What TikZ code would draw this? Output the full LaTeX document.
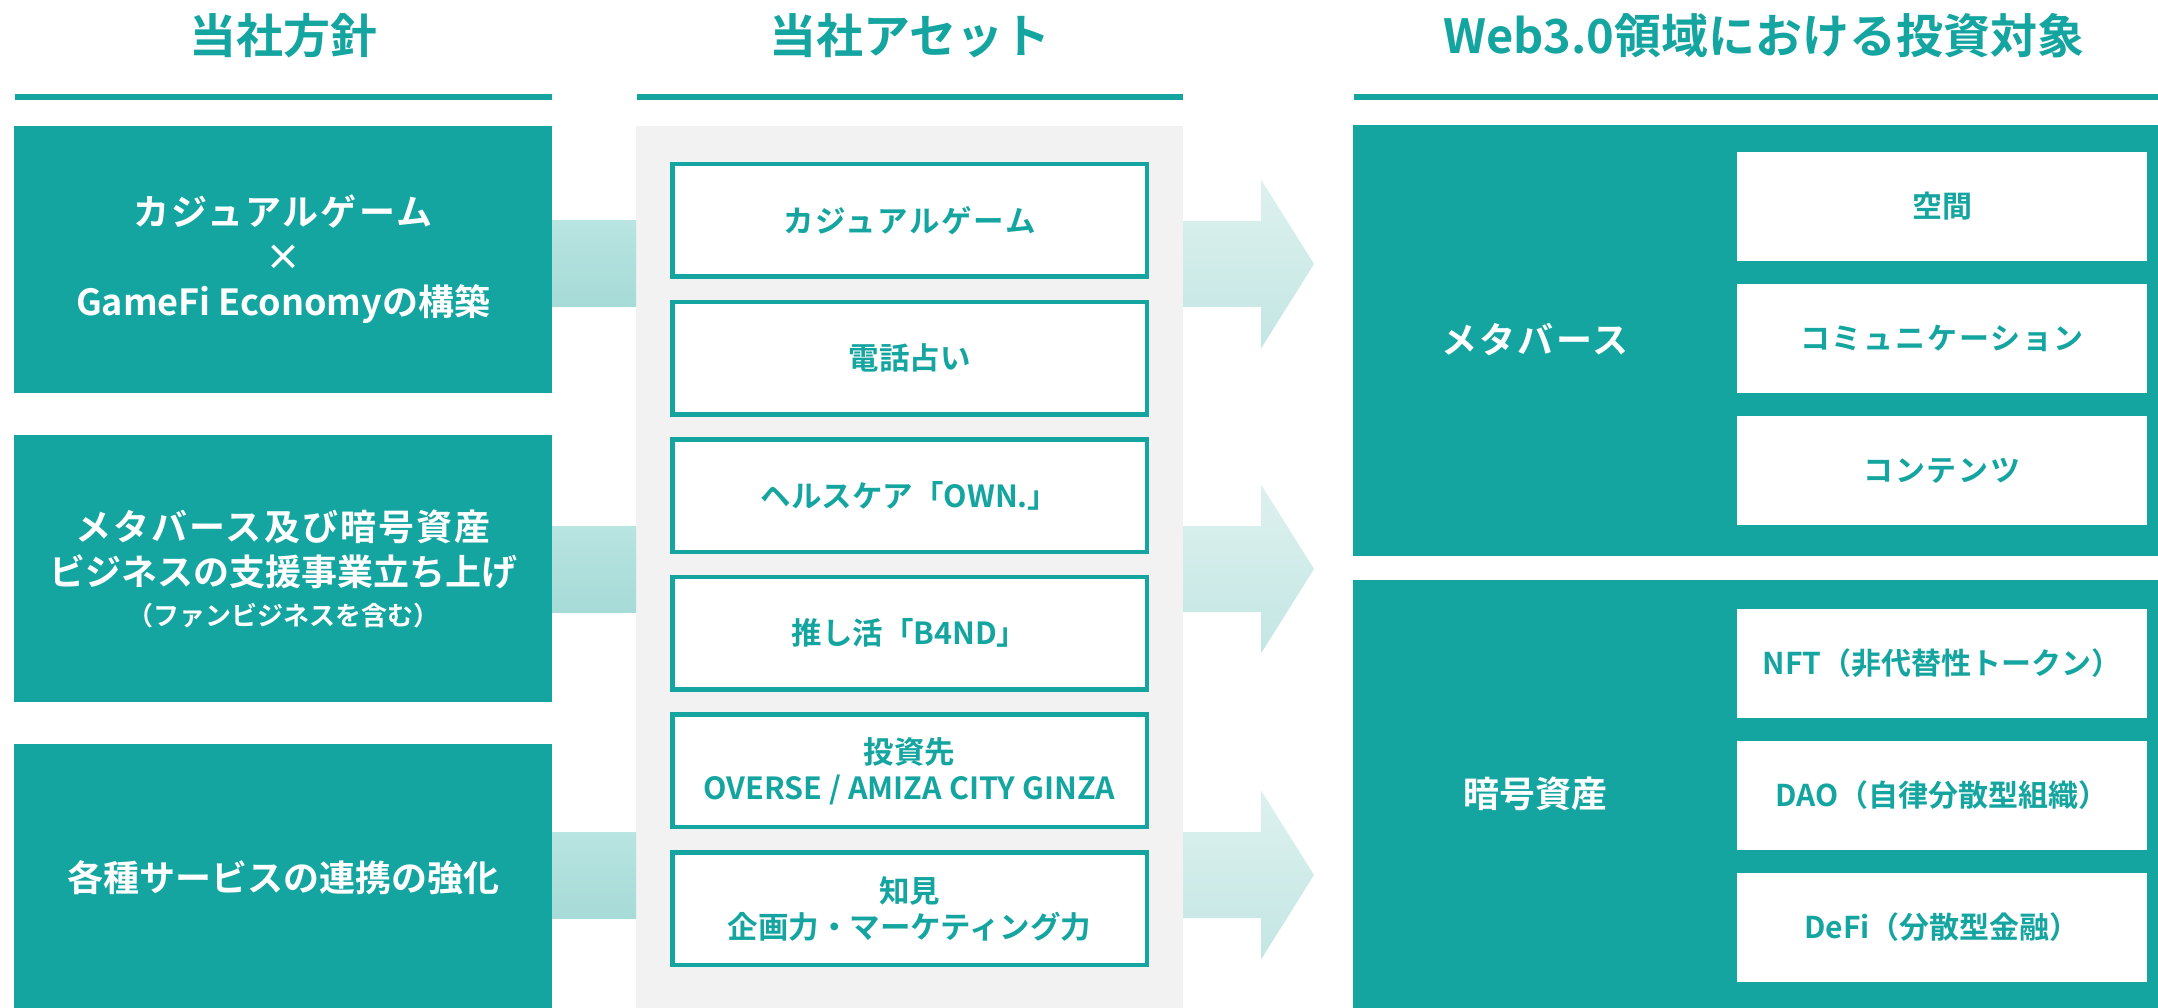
\documentclass[tikz,border=0pt]{standalone}
\usepackage{fontspec}
\setmainfont{Noto Sans CJK JP}[BoldFont=* Bold]
\newcommand\kspace{\addfontfeatures{LetterSpace=6}}
\definecolor{tealc}{RGB}{20,165,160}
\definecolor{barT}{RGB}{184,228,225}
\definecolor{barB}{RGB}{166,219,215}
\definecolor{arrT}{RGB}{221,241,239}
\definecolor{arrB}{RGB}{195,230,227}
\definecolor{panelc}{RGB}{242,242,242}
\tikzset{
  titletext/.style={text=tealc, font=\bfseries\fontsize{47}{50}\selectfont, inner sep=0pt},
  leftbox/.style={fill=tealc, text=white, align=center, inner sep=0pt, minimum width=538pt, minimum height=267pt, font=\bfseries\fontsize{36}{45}\selectfont},
  midbox/.style={fill=white, draw=tealc, line width=4.5pt, text=tealc, align=center, inner sep=0pt, minimum width=474.5pt, minimum height=112.5pt, font=\bfseries\fontsize{30.5}{36}\selectfont},
  subbox/.style={fill=white, text=tealc, align=center, inner sep=0pt, minimum width=410pt, minimum height=109pt, font=\bfseries\fontsize{30}{36}\selectfont},
  bigbox/.style={fill=tealc, inner sep=0pt, anchor=north west, minimum width=805pt},
  biglabel/.style={text=white, font=\bfseries\fontsize{36}{40}\selectfont, inner sep=0pt},
  panelbox/.style={fill=panelc, inner sep=0pt, anchor=north west, minimum width=547pt, minimum height=882pt},
  rulebar/.style={fill=tealc},
}
\begin{document}
\begin{tikzpicture}[x=1pt,y=-1pt]
\useasboundingbox (0,0) rectangle (2158,1008);
\fill[white] (0,0) rectangle (2158,1008);
% titles
\node[titletext] (t1) at (283,36) {当社方針};
\node[titletext] (t2) at (910,36) {当社アセット};
\node[titletext] (t3) at (1764,36) {Web3.0領域における投資対象};
% rules
\fill[rulebar] (15,94) rectangle (552,100);
\fill[rulebar] (637,94) rectangle (1183,100);
\fill[rulebar] (1354,94) rectangle (2158,100);
% left column
\node[leftbox] (l1) at (283,259.5) {{\kspace カジュアルゲーム}\\×\\GameFi Economyの構築};
\node[leftbox] (l2) at (283,568.5) {{\kspace メタバース及び暗号資産}\\ビジネスの支援事業立ち上げ\\[-5pt]{\fontsize{26}{30}\selectfont （ファンビジネスを含む）}};
\node[leftbox] (l3) at (283,877.5) {各種サービスの連携の強化};
% middle panel
\node[panelbox] (panel) at (636,126) {};
\foreach \c in {264,569,875}{
  \shade[top color=barT, bottom color=barB] (552,\c-43) rectangle (636,\c+43);
}
\node[midbox] (m1) at (909.5,220.5) {{\kspace カジュアルゲーム}};
\node[midbox] (m2) at (909.5,358.1) {電話占い};
\node[midbox] (m3) at (909.5,495.7) {ヘルスケア「OWN.」};
\node[midbox] (m4) at (909.5,633.3) {推し活「B4ND」};
\node[midbox] (m5) at (909.5,770.9) {投資先\\OVERSE / AMIZA CITY GINZA};
\node[midbox] (m6) at (909.5,908.5) {知見\\企画力・マーケティング力};
% block arrows
\foreach \c in {264,569,875}{
  \shade[top color=arrT, bottom color=arrB]
    (1183,\c-43) -- (1261,\c-43) -- (1261,\c-84.5) -- (1314,\c)
    -- (1261,\c+84.5) -- (1261,\c+43) -- (1183,\c+43) -- cycle;
}
% right column
\node[bigbox, minimum height=431pt] (meta) at (1353,125) {};
\node[bigbox, minimum height=428pt] (crypto) at (1353,580) {};
\node[biglabel] (metal) at (1535,340) {{\kspace メタバース}};
\node[biglabel] (cryptol) at (1535,794) {暗号資産};
\node[subbox] (s1) at (1942,206.5) {空間};
\node[subbox] (s2) at (1942,338.5) {{\kspace コミュニケーション}};
\node[subbox] (s3) at (1942,470.5) {{\kspace コンテンツ}};
\node[subbox] (s4) at (1942,663.5) {NFT（非代替性トークン）};
\node[subbox] (s5) at (1942,795.5) {DAO（自律分散型組織）};
\node[subbox] (s6) at (1942,927.5) {DeFi（分散型金融）};
\end{tikzpicture}
\end{document}
